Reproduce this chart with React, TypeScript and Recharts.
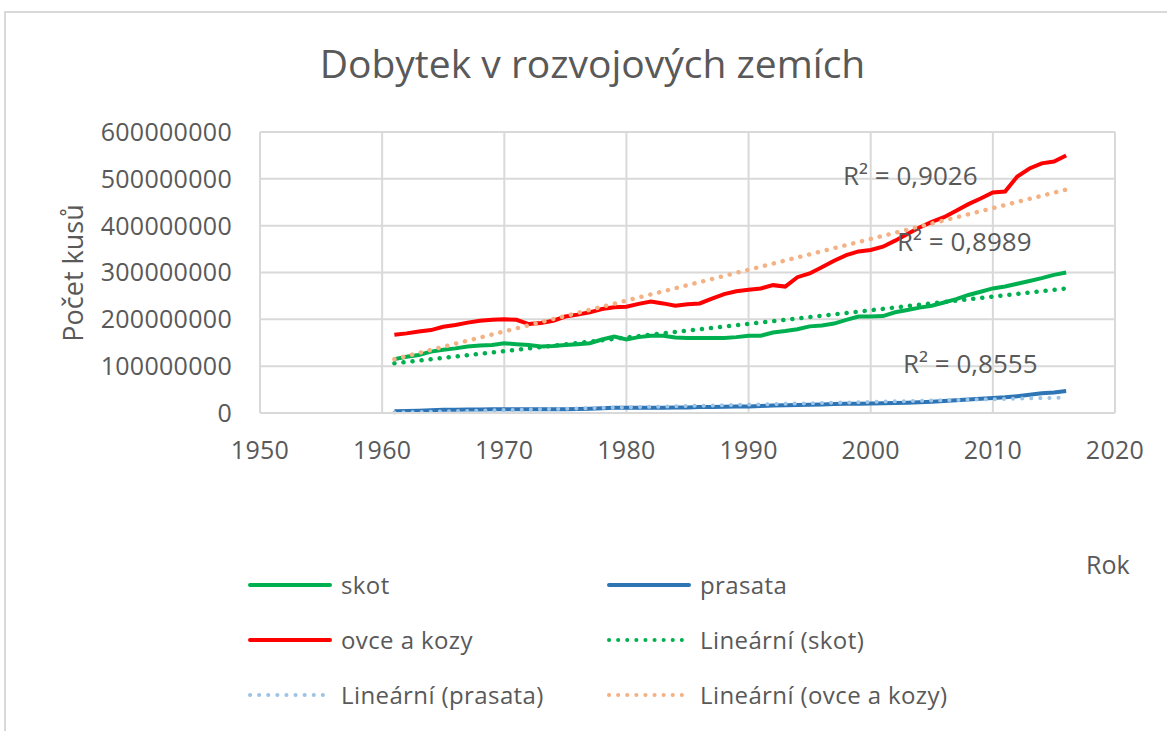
import React from "react";
import { LineChart, Line, XAxis, YAxis, CartesianGrid } from "recharts";

// roky 1961–2016, hodnoty v milionech kusů
const years = [
  1961, 1962, 1963, 1964, 1965, 1966, 1967, 1968, 1969, 1970,
  1971, 1972, 1973, 1974, 1975, 1976, 1977, 1978, 1979, 1980,
  1981, 1982, 1983, 1984, 1985, 1986, 1987, 1988, 1989, 1990,
  1991, 1992, 1993, 1994, 1995, 1996, 1997, 1998, 1999, 2000,
  2001, 2002, 2003, 2004, 2005, 2006, 2007, 2008, 2009, 2010,
  2011, 2012, 2013, 2014, 2015, 2016,
];

const skot = [
  115, 120, 124, 131, 135, 138, 142, 144, 145, 149,
  147, 145, 142, 143, 145, 147, 149, 157, 163, 157,
  162, 165, 165, 161, 160, 160, 160, 160, 162, 165,
  165, 172, 175, 179, 185, 187, 191, 199, 206, 206,
  207, 215, 220, 225, 229, 236, 243, 252, 259, 266,
  270, 276, 282, 288, 295, 300,
];

const prasata = [
  4, 4.5, 5, 6, 7, 7, 7.5, 7.5, 8, 8,
  8, 8, 8, 8, 8, 8.5, 9, 10, 11, 11,
  11, 11, 11, 11.5, 12, 13, 13, 13.5, 14, 14,
  15, 16, 16.5, 17, 17.5, 18, 19, 19.5, 20, 20.5,
  21, 21.5, 22, 23, 24, 25.5, 27, 29, 30.5, 32,
  33.5, 36, 39, 42, 44, 47,
];

const ovceKozy = [
  167, 170, 174, 177, 184, 188, 193, 197, 199, 200,
  199, 190, 192, 197, 206, 210, 215, 222, 226, 227,
  233, 238, 234, 229, 232, 234, 244, 254, 260, 263,
  266, 273, 270, 290, 298, 311, 325, 337, 345, 348,
  355, 368, 382, 396, 408, 418, 432, 446, 458, 471,
  473, 505, 522, 533, 537, 550,
];

// koncové body lineárních trendů
const trendYears = [1961, 2016];
const trendSkot = [106, 266];
const trendPrasata = [1, 33];
const trendOvceKozy = [115, 477];

const xTicks = [1950, 1960, 1970, 1980, 1990, 2000, 2010, 2020];
const yTicks = [0, 100000000, 200000000, 300000000, 400000000, 500000000, 600000000];

const M = 1000000;
const data = years.map((year, i) => ({
  year,
  skot: skot[i] * M,
  prasata: prasata[i] * M,
  ovceKozy: ovceKozy[i] * M,
}));
const trendData = trendYears.map((year, i) => ({
  year,
  skot: trendSkot[i] * M,
  prasata: trendPrasata[i] * M,
  ovceKozy: trendOvceKozy[i] * M,
}));

const GREEN = "#00b050";
const BLUE = "#2e75b6";
const RED = "#ff0000";
const ORANGE = "#f4b183";
const LIGHTBLUE = "#9dc3e6";
const TEXT = "#595959";
const GRID = "#d9d9d9";
const FONT = "'Open Sans', sans-serif";

const legendItems = [
  { name: "skot", color: GREEN, dotted: false },
  { name: "prasata", color: BLUE, dotted: false },
  { name: "ovce a kozy", color: RED, dotted: false },
  { name: "Lineární (skot)", color: GREEN, dotted: true },
  { name: "Lineární (prasata)", color: LIGHTBLUE, dotted: true },
  { name: "Lineární (ovce a kozy)", color: ORANGE, dotted: true },
];

const r2Labels = [
  { text: "R² = 0,9026", left: 843, top: 157 },
  { text: "R² = 0,8989", left: 897, top: 223 },
  { text: "R² = 0,8555", left: 903, top: 345 },
];

const dotted = { strokeDasharray: "0.1 9", strokeLinecap: "round" as const };
const tickStyle = { fill: TEXT, fontSize: 25, fontFamily: FONT, letterSpacing: 0.3 };

export default function App() {
  return (
    <div
      style={{
        position: "absolute",
        left: 0,
        top: 0,
        width: 1167,
        height: 731,
        background: "#fff",
        overflow: "hidden",
        fontFamily: FONT,
        color: TEXT,
      }}
    >
      <div
        style={{
          position: "absolute",
          left: 4,
          top: 11,
          width: 1200,
          height: 760,
          border: `2px solid ${GRID}`,
        }}
      />
      <div
        style={{
          position: "absolute",
          left: 18,
          width: 1149,
          top: 37,
          textAlign: "center",
          fontSize: 39,
          lineHeight: "52px",
        }}
      >
        Dobytek v rozvojových zemích
      </div>

      <LineChart
        width={1167}
        height={731}
        data={data}
        margin={{ top: 132, right: 52, bottom: 258, left: 0 }}
        style={{ position: "absolute", left: 0, top: 0 }}
      >
        <CartesianGrid stroke={GRID} strokeWidth={2} />
        <XAxis
          dataKey="year"
          type="number"
          domain={[1950, 2020]}
          ticks={xTicks}
          height={60}
          tickSize={0}
          tickMargin={28}
          axisLine={{ stroke: GRID, strokeWidth: 2 }}
          tickLine={false}
          tick={tickStyle}
          allowDuplicatedCategory={false}
        />
        <YAxis
          type="number"
          domain={[0, 600000000]}
          ticks={yTicks}
          width={260}
          tickSize={0}
          tickMargin={28}
          axisLine={{ stroke: GRID, strokeWidth: 2 }}
          tickLine={false}
          tick={tickStyle}
        />
        <Line dataKey="prasata" stroke={BLUE} strokeWidth={4} dot={false} isAnimationActive={false} />
        <Line data={trendData} dataKey="prasata" stroke={LIGHTBLUE} strokeWidth={4} {...dotted} dot={false} isAnimationActive={false} />
        <Line dataKey="skot" stroke={GREEN} strokeWidth={4} dot={false} isAnimationActive={false} />
        <Line dataKey="ovceKozy" stroke={RED} strokeWidth={4} dot={false} isAnimationActive={false} />
        <Line data={trendData} dataKey="skot" stroke={GREEN} strokeWidth={4.5} {...dotted} dot={false} isAnimationActive={false} />
        <Line data={trendData} dataKey="ovceKozy" stroke={ORANGE} strokeWidth={4.5} {...dotted} dot={false} isAnimationActive={false} />
      </LineChart>

      {r2Labels.map((l) => (
        <div
          key={l.text}
          style={{ position: "absolute", left: l.left, top: l.top, fontSize: 26, lineHeight: "36px", whiteSpace: "nowrap" }}
        >
          {l.text}
        </div>
      ))}

      <div
        style={{
          position: "absolute",
          left: 72,
          top: 273,
          transform: "translate(-50%, -50%) rotate(-90deg)",
          fontSize: 27,
          whiteSpace: "nowrap",
        }}
      >
        Počet kusů
      </div>

      <div style={{ position: "absolute", left: 1086, top: 546, fontSize: 25, lineHeight: "36px" }}>Rok</div>

      {legendItems.map((item, i) => {
        const col = i % 2;
        const row = Math.floor(i / 2);
        const left = col === 0 ? 248 : 607;
        const top = 567 + row * 55;
        return (
          <div
            key={item.name}
            style={{ position: "absolute", left, top, height: 36, display: "flex", alignItems: "center", whiteSpace: "nowrap" }}
          >
            <svg width={84} height={10} style={{ marginRight: 9 }}>
              <line
                x1={2}
                x2={82}
                y1={5}
                y2={5}
                stroke={item.color}
                strokeWidth={4}
                strokeLinecap="round"
                strokeDasharray={item.dotted ? "0.1 9" : undefined}
              />
            </svg>
            <span style={{ fontSize: 24, lineHeight: "36px", letterSpacing: 0.4 }}>{item.name}</span>
          </div>
        );
      })}
    </div>
  );
}
